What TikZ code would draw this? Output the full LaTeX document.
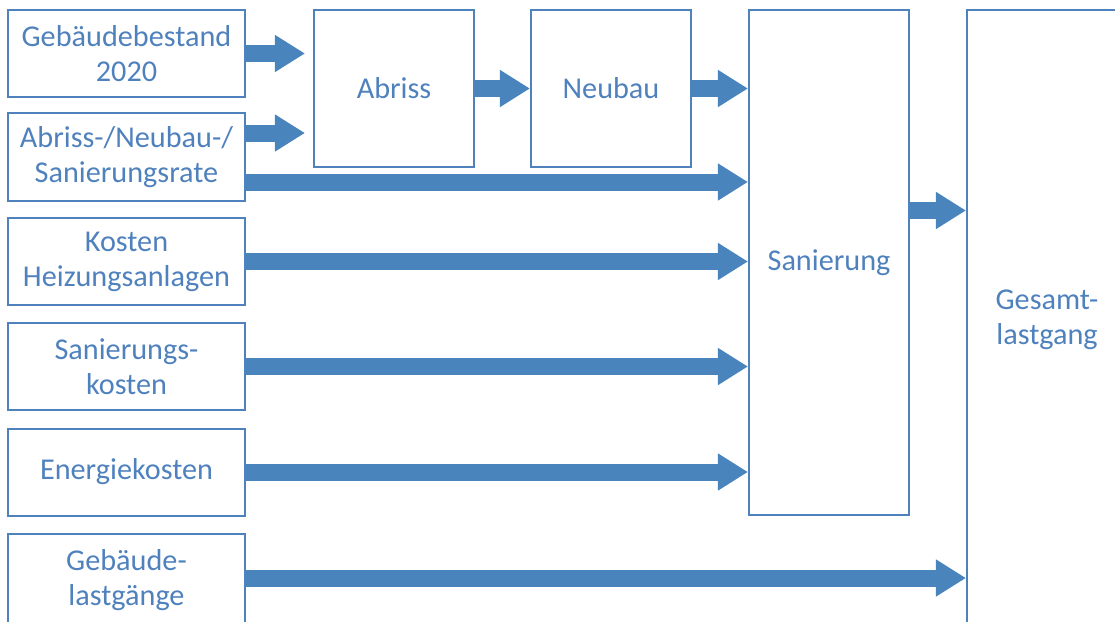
\documentclass[tikz,border=0pt]{standalone}
\usepackage{fontspec}
\setmainfont{Carlito}
\usetikzlibrary{arrows.meta}
\definecolor{blau}{RGB}{79,129,189}
\definecolor{pfeil}{RGB}{74,132,188}
\tikzset{
  kasten/.style={draw=blau, line width=0.05cm, text=blau, align=center, inner sep=0pt,
    font=\fontsize{21.5}{25}\selectfont},
  links/.style={kasten, minimum width=5.925cm, minimum height=2.175cm},
  block/.style={kasten, minimum width=4cm},
  fluss/.style={draw=pfeil, line width=0.425cm, -{Triangle[length=0.75cm, width=0.875cm]}}
}
\begin{document}
\begin{tikzpicture}[x=0.025cm, y=-0.025cm]
\useasboundingbox (0,0) rectangle (1115,621);

\node(Bestand)[links] at (126.5,53.5) {Gebäudebestand\\2020};
\node(Rate)[links] at (126.5,157) {Abriss-/Neubau-/\\Sanierungsrate};
\node(Kosten)[links] at (126.5,261.5) {Kosten\\Heizungsanlagen};
\node(SanKosten)[links] at (126.5,366.5) {Sanierungs-\\kosten};
\node(Energie)[links] at (126.5,472) {Energiekosten};
\node(Lastgang)[links, minimum height=2.3cm] at (126.5,580) {Gebäude-\\lastgänge};

\node(Abriss)[block, minimum height=3.925cm] at (394,88.5) {Abriss};
\node(Neubau)[block, minimum height=3.925cm] at (611,88.5) {Neubau};
\node(Sanierung)[block, minimum height=12.625cm] at (829,262.5) {Sanierung};
\node(Gesamt)[block, minimum height=15.5cm] at (1047,320) {Gesamt-\\lastgang};

\draw[fluss, shorten >=0.2cm] (Bestand.east) -- (Bestand.east -| Abriss.west);
\draw[fluss, shorten >=0.2cm] ([yshift=0.6cm]Rate.east) -- ([yshift=0.6cm]Rate.east -| Abriss.west);
\draw[fluss] ([yshift=-0.625cm]Rate.east) -- ([yshift=-0.625cm]Rate.east -| Sanierung.west);
\draw[fluss] (Abriss.east) -- (Neubau.west);
\draw[fluss] (Neubau.east) -- (Neubau.east -| Sanierung.west);
\draw[fluss] (Kosten.east) -- (Kosten.east -| Sanierung.west);
\draw[fluss] (SanKosten.east) -- (SanKosten.east -| Sanierung.west);
\draw[fluss] (Energie.east) -- (Energie.east -| Sanierung.west);
\draw[fluss] ([yshift=1.3cm]Sanierung.east) -- ([yshift=1.3cm]Sanierung.east -| Gesamt.west);
\draw[fluss] ([yshift=0.05cm]Lastgang.east) -- ([yshift=0.05cm]Lastgang.east -| Gesamt.west);
\end{tikzpicture}
\end{document}
